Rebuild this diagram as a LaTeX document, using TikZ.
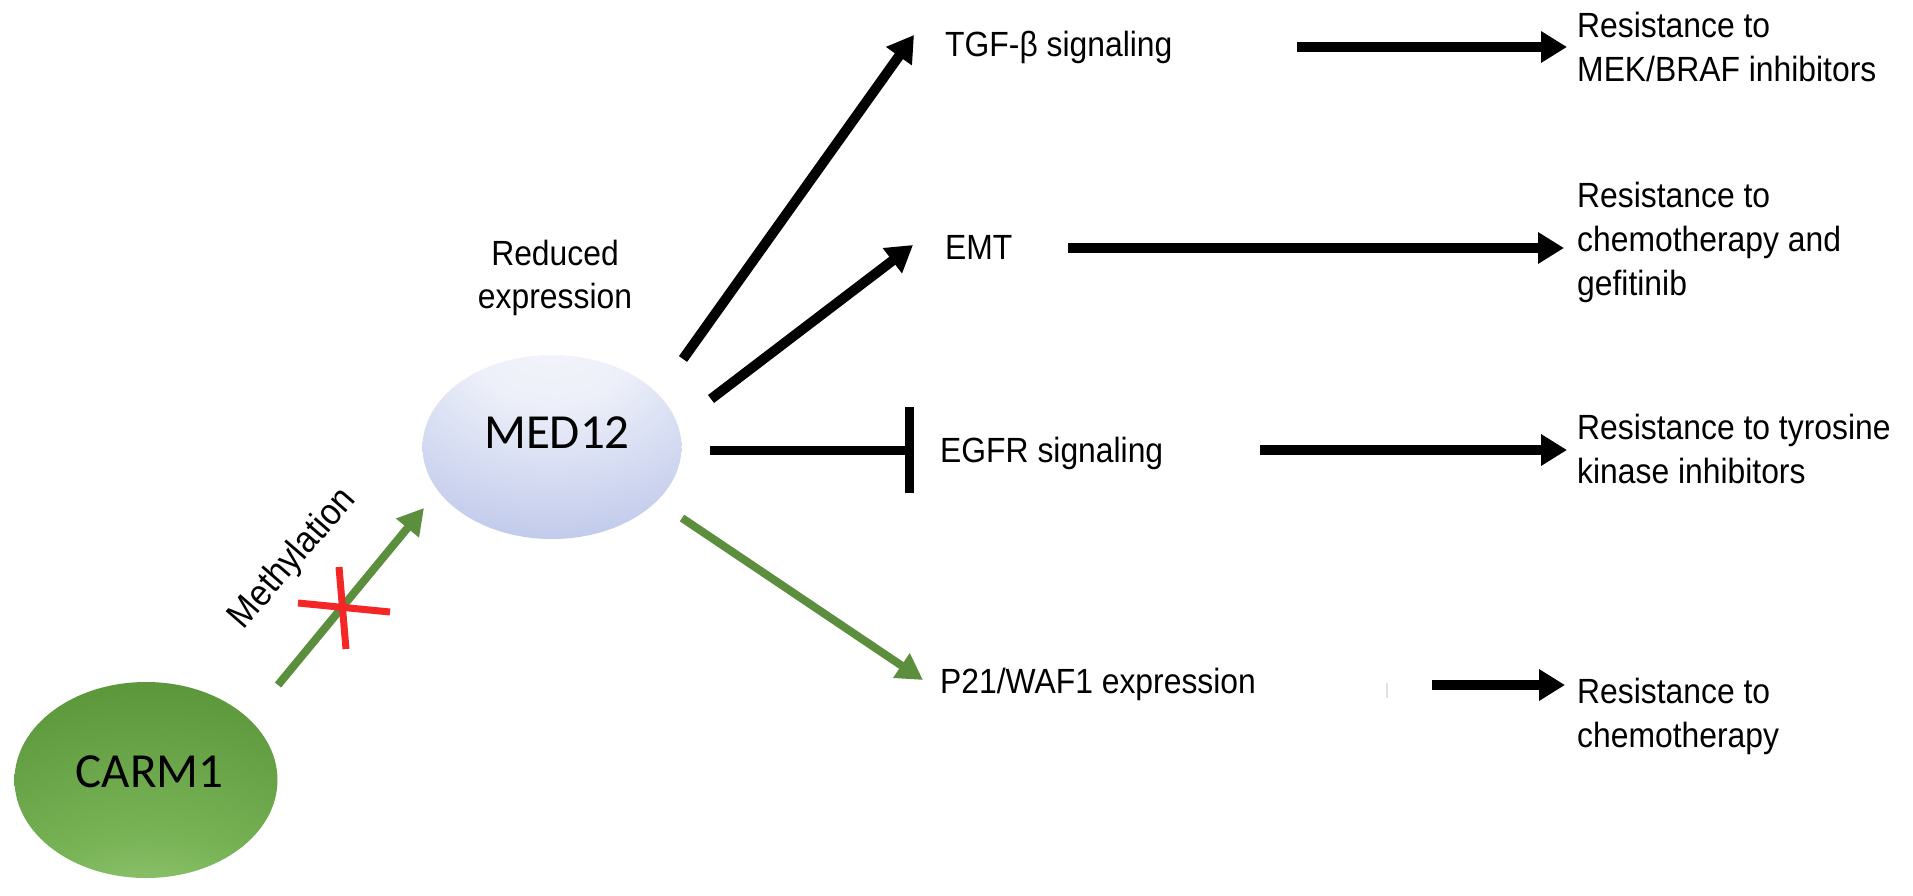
\documentclass[tikz,border=0pt]{standalone}
\usepackage{fontspec}
\newfontfamily\labfont{Liberation Sans}[FakeStretch=0.91]
\newfontfamily\calfont{Carlito}
\usetikzlibrary{arrows.meta,shapes.geometric}
\definecolor{medA}{HTML}{F3F4FA}
\definecolor{medB}{HTML}{EDF0F9}
\definecolor{medC}{HTML}{D0D7F0}
\definecolor{medD}{HTML}{B4BFE7}
\definecolor{medE}{HTML}{A2AFDF}
\definecolor{carA}{HTML}{A8D58A}
\definecolor{carB}{HTML}{78B356}
\definecolor{carC}{HTML}{5B953A}
\definecolor{carD}{HTML}{4B7F2D}
\definecolor{grnarrow}{HTML}{5B8E3D}
\definecolor{redx}{HTML}{F42626}
\pgfdeclareradialshading{medshade}{\pgfpoint{0bp}{30bp}}{color(0bp)=(medA); color(15bp)=(medB); color(35bp)=(medC); color(55bp)=(medD); color(80bp)=(medE); color(140bp)=(medE)}
\pgfdeclareradialshading{carshade}{\pgfpoint{0bp}{-48bp}}{color(0bp)=(carA); color(25bp)=(carB); color(55bp)=(carC); color(85bp)=(carD); color(130bp)=(carD)}
\begin{document}
\begin{tikzpicture}[x=1pt,y=-1pt,
  lab/.style={font=\labfont\fontsize{35}{44}\selectfont, inner sep=0pt, align=left, anchor=base west},
  blk/.style={line width=10pt, -{Triangle[length=26pt,width=30pt]}},
  grn/.style={draw=grnarrow, line width=8pt, -{Triangle[length=26pt,width=28pt]}},
  inh/.style={line width=9pt, -{Bar[width=86pt]}},
  xline/.style={draw=redx, line width=7pt},
  blob/.style={ellipse, inner sep=0pt, font=\calfont\fontsize{49}{58}\selectfont}]
\useasboundingbox (0,0) rectangle (1913,896);
% main nodes
\node[blob, minimum width=263pt, minimum height=196pt, shading=carshade] (carm) at (146,780) {\raisebox{-7.5pt}[0pt][0pt]{\makebox[0pt]{\hspace*{7pt}CARM1}}};
\node[blob, minimum width=259pt, minimum height=184pt, shading=medshade] (med) at (552,447) {\raisebox{-1.5pt}[0pt][0pt]{\makebox[0pt]{\hspace*{10pt}MED12}}};
% labels (multi-line nodes: base = baseline of the last line)
\node[font=\labfont\fontsize{35}{43}\selectfont, inner sep=0pt, align=center, anchor=base] (red) at (555,308) {Reduced\\expression};
\node[font=\labfont\fontsize{37}{44}\selectfont, inner sep=0pt, rotate=49] (meth) at (293,559) {Methylation};
\node[lab] (tgf) at (945,57) {TGF-β signaling};
\node[lab] (emt) at (945,259) {EMT};
\node[lab] (egfr) at (940,462) {EGFR signaling};
\node[lab] (p21) at (940,693) {P21/WAF1 expression};
\node[lab] (res1) at (1577,82) {Resistance to\\MEK/BRAF inhibitors};
\node[lab] (res2) at (1577,295) {Resistance to\\chemotherapy and\\gefitinib};
\node[lab] (res3) at (1577,483) {Resistance to tyrosine\\kinase inhibitors};
\node[lab] (res4) at (1577,747) {Resistance to\\chemotherapy};
% connector end points
\coordinate (m1) at (278,685);
\coordinate (m2) at (424,508);
\coordinate (t1) at (683,359);
\coordinate (t2) at (914,35);
\coordinate (e1) at (711,399);
\coordinate (e2) at (913,245);
\coordinate (g1) at (710,450);
\coordinate (g2) at (914,450);
\coordinate (p1) at (682,518);
\coordinate (p2) at (923,680);
\coordinate (r1a) at (1297,47);
\coordinate (r1b) at (1567,47);
\coordinate (r2a) at (1068,248);
\coordinate (r2b) at (1564,248);
\coordinate (r3a) at (1260,450);
\coordinate (r3b) at (1567,450);
\coordinate (r4a) at (1432,685);
\coordinate (r4b) at (1565,685);
\coordinate (xa) at (339,567);
\coordinate (xb) at (346,649);
\coordinate (xc) at (298,603);
\coordinate (xd) at (390,612);
\coordinate (tk1) at (1387,683);
\coordinate (tk2) at (1387,698);
% connectors
\draw[grn] (m1) -- (m2);
\draw[xline] (xa) -- (xb);
\draw[xline] (xc) -- (xd);
\draw[blk] (t1) -- (t2);
\draw[blk] (e1) -- (e2);
\draw[inh] (g1) -- (g2);
\draw[grn] (p1) -- (p2);
\draw[blk] (r1a) -- (r1b);
\draw[blk] (r2a) -- (r2b);
\draw[blk] (r3a) -- (r3b);
\draw[blk] (r4a) -- (r4b);
\draw[black!12, line width=1.5pt] (tk1) -- (tk2);
\end{tikzpicture}
\end{document}
